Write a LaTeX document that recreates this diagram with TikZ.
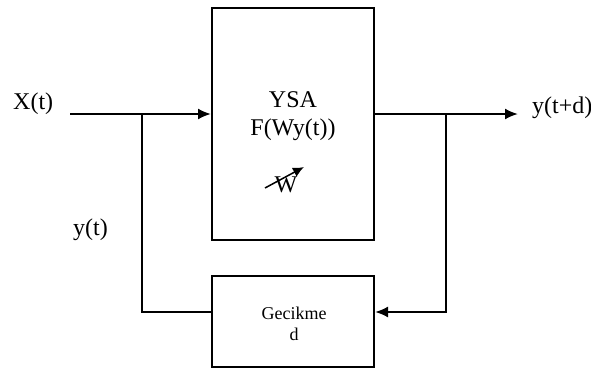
\documentclass[tikz,border=0pt]{standalone}
\usepackage{fontspec}
\setmainfont{Liberation Serif}
\usetikzlibrary{arrows.meta, positioning}
\tikzset{
  block/.style={
    rectangle,
    draw=black,
    line width=2pt,
    minimum width=162pt,
    inner sep=0pt
  },
  bigtext/.style={
    font=\fontsize{24}{28}\selectfont,
    align=center
  },
  smalltext/.style={
    font=\fontsize{18}{21}\selectfont,
    align=center
  },
  line/.style={
    line width=2pt
  },
  arrow/.style={
    line width=2pt,
    -{Latex[length=13pt,width=11pt]}
  },
  tuning/.style={
    line width=1.5pt,
    -{Latex[length=11pt,width=10pt]}
  }
}

\begin{document}
\begin{tikzpicture}[x=1pt, y=-1pt]
  \useasboundingbox (0,0) rectangle (591,369);

  % Blocks
  \node (ysa) [block, minimum height=232pt] at (293,124) {};
  \node (gec) [block, minimum height=91pt] at (293,321.5) {};

  % Texts
  \node (ysatext) [bigtext] at (293,116) {YSA\\F(Wy(t))};
  \node (wlabel) [bigtext, anchor=base] at (286,192) {W};
  \node (gectext) [smalltext] at (294,324) {Gecikme\\d};
  \node (xin) [bigtext, anchor=base west, inner sep=0pt] at (13,109) {X(t)};
  \node (yfb) [bigtext, anchor=base west, inner sep=0pt] at (73,235) {y(t)};
  \node (yout) [bigtext, anchor=base west, inner sep=0pt] at (532,113) {y(t+d)};

  % Connection points
  \coordinate (in) at (70,114);
  \coordinate (out) at (518,114);
  \coordinate (tapL) at (142,114);
  \coordinate (tapR) at (446,114);
  \coordinate (loopL) at (142,312);
  \coordinate (loopR) at (446,312);
  \coordinate (wtail) at (265,188);
  \coordinate (wtip) at (304,167);

  % Signals
  \draw[arrow] (in) -- (in -| ysa.west);
  \draw[arrow] (in -| ysa.east) -- (out);
  \draw[line] (tapL) -- (loopL) -- (loopL -| gec.west);
  \draw[arrow] (tapR) -- (loopR) -- (loopR -| gec.east);

  % Weight adjustment
  \draw[tuning] (wtail) -- (wtip);

\end{tikzpicture}
\end{document}
